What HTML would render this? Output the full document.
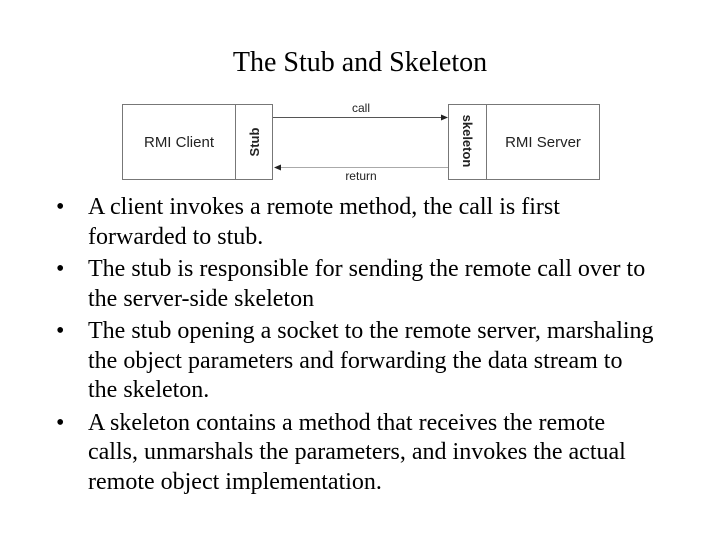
<!DOCTYPE html>
<html><head><style>
body{margin:0;width:720px;height:540px;background:#fff;position:relative;font-family:"Liberation Serif",serif;overflow:hidden}
.t{position:absolute;left:0;width:720px;text-align:center;top:47px;font-size:28px}
ul{position:absolute;left:56px;top:193px;margin:0;padding:0;list-style:none;font-size:24px;line-height:29.5px;width:660px;white-space:nowrap}
li{position:relative;padding-left:32px;margin-bottom:3px}
li:before{content:"•";position:absolute;left:0}
</style></head><body>
<div class="t">The Stub and Skeleton</div>
<svg style="position:absolute;left:0;top:0" width="720" height="200" font-family="Liberation Sans,sans-serif">
<g fill="none" stroke="#777" stroke-width="1">
<rect x="122.5" y="104.5" width="150" height="75"/>
<line x1="235.5" y1="104" x2="235.5" y2="180"/>
<rect x="448.5" y="104.5" width="151" height="75"/>
<line x1="486.5" y1="104" x2="486.5" y2="180"/>
<line x1="273" y1="117.5" x2="444" y2="117.5" stroke="#555"/>
<line x1="280" y1="167.5" x2="448" y2="167.5" stroke="#aaa"/>
</g>
<polygon points="448,117.5 441,114.5 441,120.5" fill="#222"/>
<polygon points="274,167.5 281,164.5 281,170.5" fill="#222"/>
<text x="179" y="147" font-size="15" text-anchor="middle" fill="#222">RMI Client</text>
<text x="543" y="147" font-size="15" text-anchor="middle" fill="#222">RMI Server</text>
<text x="361" y="112" font-size="12" text-anchor="middle" fill="#222">call</text>
<text x="361" y="180" font-size="12" text-anchor="middle" fill="#222">return</text>
<text transform="translate(259,142) rotate(-90)" font-size="13" font-weight="bold" text-anchor="middle" fill="#222">Stub</text>
<text transform="translate(463,141) rotate(90)" font-size="13" font-weight="bold" text-anchor="middle" fill="#222">skeleton</text>
</svg>
<ul>
<li>A client invokes a remote method, the call is first<br>forwarded to stub.</li>
<li>The stub is responsible for sending the remote call over to<br>the server-side skeleton</li>
<li>The stub opening a socket to the remote server, marshaling<br>the object parameters and forwarding the data stream to<br>the skeleton.</li>
<li>A skeleton contains a method that receives the remote<br>calls, unmarshals the parameters, and invokes the actual<br>remote object implementation.</li>
</ul>
</body></html>
